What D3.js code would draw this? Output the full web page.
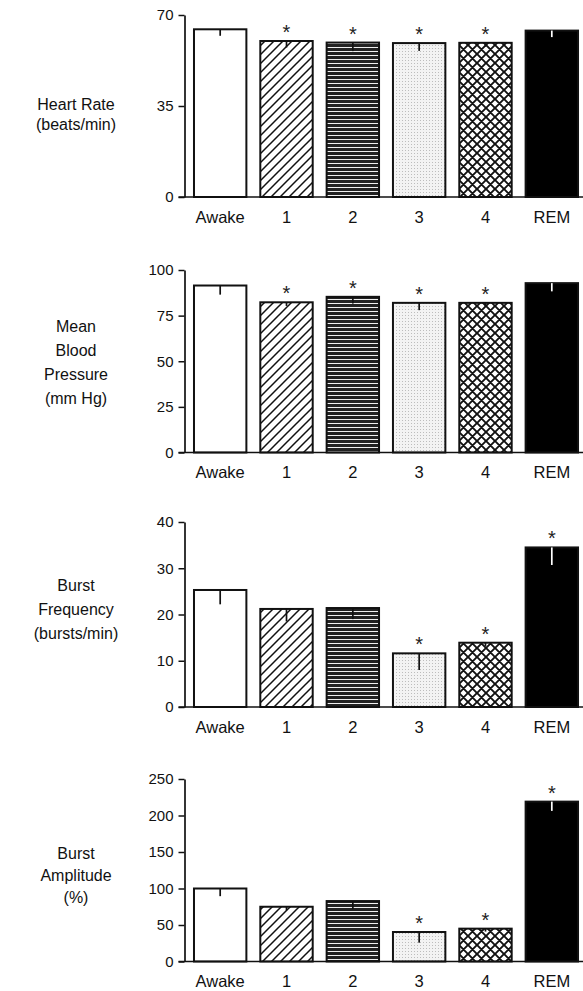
<!DOCTYPE html>
<html>
<head>
<meta charset="utf-8">
<script src="https://cdn.jsdelivr.net/npm/d3@7"></script>
<style>
  html, body { margin: 0; padding: 0; background: #fff; }
  svg { display: block; font-family: "Liberation Sans", Arial, Helvetica, sans-serif; }
</style>
</head>
<body>
<svg id="chart" width="583" height="991"></svg>
<script>
// ---------------- data ----------------
const categories = ["Awake", "1", "2", "3", "4", "REM"];

const heartRateValues = [64.5, 60.0, 59.4, 59.2, 59.3, 64.0];
const heartRateErrors = [2.5, 2.5, 3.3, 3.0, 1.5, 2.5];
const heartRateSig    = [false, true, true, true, true, false];
const heartRateTicks  = [0, 35, 70];

const bloodPressureValues = [91.5, 82.3, 85.3, 82.0, 82.0, 92.8];
const bloodPressureErrors = [5.0, 2.0, 3.7, 4.0, 2.0, 4.5];
const bloodPressureSig    = [false, true, true, true, true, false];
const bloodPressureTicks  = [0, 25, 50, 75, 100];

const burstFreqValues = [25.3, 21.2, 21.4, 11.6, 13.9, 34.5];
const burstFreqErrors = [3.1, 2.7, 2.4, 3.6, 0.8, 3.8];
const burstFreqSig    = [false, false, false, true, true, true];
const burstFreqTicks  = [0, 10, 20, 30, 40];

const burstAmpValues = [100, 75, 82.8, 40.4, 45, 219];
const burstAmpErrors = [10.5, 5.0, 11.0, 14.6, 4.0, 12.7];
const burstAmpSig    = [false, false, false, true, true, true];
const burstAmpTicks  = [0, 50, 100, 150, 200, 250];

const titleHeartRate     = ["Heart Rate", "(beats/min)"];
const titleBloodPressure = ["Mean", "Blood", "Pressure", "(mm Hg)"];
const titleBurstFreq     = ["Burst", "Frequency", "(bursts/min)"];
const titleBurstAmp      = ["Burst", "Amplitude", "(%)"];

// ---------------- layout ----------------
const panels = [
  { values: heartRateValues, errors: heartRateErrors, sig: heartRateSig, ticks: heartRateTicks,
    title: titleHeartRate, top: 15, bottom: 197, titleY: [104, 124] },
  { values: bloodPressureValues, errors: bloodPressureErrors, sig: bloodPressureSig, ticks: bloodPressureTicks,
    title: titleBloodPressure, top: 270, bottom: 452.5, titleY: [326, 350, 374, 398] },
  { values: burstFreqValues, errors: burstFreqErrors, sig: burstFreqSig, ticks: burstFreqTicks,
    title: titleBurstFreq, top: 522, bottom: 707, titleY: [585, 609, 633] },
  { values: burstAmpValues, errors: burstAmpErrors, sig: burstAmpSig, ticks: burstAmpTicks,
    title: titleBurstAmp, top: 779, bottom: 961.5, titleY: [853, 875, 897] }
];

const axisX = 184.5;
const svg = d3.select("#chart");

// ---------------- patterns ----------------
const defs = svg.append("defs");
const fills = ["#ffffff", "url(#p-diag)", "url(#p-horiz)", "url(#p-dots)", "url(#p-cross)", "#000000"];

(function () {
  const w = 9;
  const p = defs.append("pattern").attr("id", "p-diag").attr("patternUnits", "userSpaceOnUse")
    .attr("width", w).attr("height", w);
  p.append("rect").attr("width", w).attr("height", w).attr("fill", "#fff");
  p.append("path")
    .attr("d", `M-1,${w + 1} L${w + 1},-1 M-1,1 L1,-1 M${w - 1},${w + 1} L${w + 1},${w - 1}`)
    .attr("stroke", "#111").attr("stroke-width", 1.5);

  const h = defs.append("pattern").attr("id", "p-horiz").attr("patternUnits", "userSpaceOnUse")
    .attr("width", 10).attr("height", 4);
  h.append("rect").attr("width", 10).attr("height", 4).attr("fill", "#f0f0f0");
  h.append("rect").attr("width", 10).attr("height", 3).attr("fill", "#222");

  const d = defs.append("pattern").attr("id", "p-dots").attr("patternUnits", "userSpaceOnUse")
    .attr("width", 3).attr("height", 3);
  d.append("rect").attr("width", 3).attr("height", 3).attr("fill", "#f3f3f3");
  d.append("rect").attr("width", 1).attr("height", 1).attr("fill", "#bdbdbd");

  const c = 9;
  const x = defs.append("pattern").attr("id", "p-cross").attr("patternUnits", "userSpaceOnUse")
    .attr("width", c).attr("height", c);
  x.append("rect").attr("width", c).attr("height", c).attr("fill", "#fff");
  x.append("path")
    .attr("d", `M-1,-1 L${c + 1},${c + 1} M${c + 1},-1 L-1,${c + 1}` +
               ` M-1,1 L1,-1 M${c - 1},${c + 1} L${c + 1},${c - 1}` +
               ` M${c - 1},-1 L${c + 1},1 M-1,${c - 1} L1,${c + 1}`)
    .attr("stroke", "#111").attr("stroke-width", 1.9);
})();

// ---------------- x scale (shared) ----------------
const x = d3.scaleBand().domain(categories).range([axisX, 587.5])
  .paddingInner(0.21).paddingOuter(0.143);

// ---------------- panels ----------------
panels.forEach(pn => {
  const maxV = pn.ticks[pn.ticks.length - 1];
  const y = d3.scaleLinear().domain([0, maxV]).range([pn.bottom, pn.top]);
  const g = svg.append("g");
  const rows = categories.map((c, i) => ({ c, v: pn.values[i], e: pn.errors[i], s: pn.sig[i], f: fills[i], i }));

  // bars
  g.selectAll("rect.bar").data(rows).join("rect")
    .attr("class", "bar")
    .attr("x", d => x(d.c))
    .attr("y", d => y(d.v))
    .attr("width", x.bandwidth())
    .attr("height", d => y(0) - y(d.v))
    .attr("fill", d => d.f)
    .attr("stroke", "#111")
    .attr("stroke-width", 2);

  // error bars (drawn inside the bar, downward)
  g.selectAll("line.err").data(rows).join("line")
    .attr("class", "err")
    .attr("x1", d => x(d.c) + x.bandwidth() / 2)
    .attr("x2", d => x(d.c) + x.bandwidth() / 2)
    .attr("y1", d => y(d.v))
    .attr("y2", d => y(d.v - d.e))
    .attr("stroke", d => d.i === 5 ? "#fff" : "#111")
    .attr("stroke-width", 1.7);

  // significance asterisks
  g.selectAll("text.sig").data(rows.filter(d => d.s)).join("text")
    .attr("class", "sig")
    .attr("x", d => x(d.c) + x.bandwidth() / 2)
    .attr("y", d => y(d.v) - 2)
    .attr("text-anchor", "middle")
    .attr("font-size", 20)
    .attr("fill", "#222")
    .text("*");

  // y axis
  const ya = g.append("g").attr("transform", `translate(${axisX},0)`)
    .call(d3.axisLeft(y).tickValues(pn.ticks).tickSizeInner(6).tickSizeOuter(0).tickPadding(5));
  ya.select(".domain").attr("stroke", "#111").attr("stroke-width", 1.7);
  ya.selectAll(".tick line").attr("stroke", "#111").attr("stroke-width", 1.5);
  ya.selectAll(".tick text").attr("font-size", 15).attr("fill", "#111")
    .attr("font-family", "'Liberation Sans', Arial, sans-serif");

  // x axis
  const xa = g.append("g").attr("transform", `translate(0,${pn.bottom})`)
    .call(d3.axisBottom(x).tickSize(0).tickPadding(14));
  xa.select(".domain").remove();
  xa.selectAll(".tick text").attr("font-size", 16.5).attr("fill", "#111")
    .attr("font-family", "'Liberation Sans', Arial, sans-serif");
  g.append("line")
    .attr("x1", axisX - 6).attr("x2", 583)
    .attr("y1", pn.bottom).attr("y2", pn.bottom)
    .attr("stroke", "#111").attr("stroke-width", 1.7);

  // title
  g.append("text")
    .attr("text-anchor", "middle")
    .attr("font-size", 16)
    .attr("fill", "#111")
    .selectAll("tspan").data(pn.title).join("tspan")
    .attr("x", 76)
    .attr("y", (t, i) => pn.titleY[i] + 6)
    .text(t => t);
});
</script>
</body>
</html>
